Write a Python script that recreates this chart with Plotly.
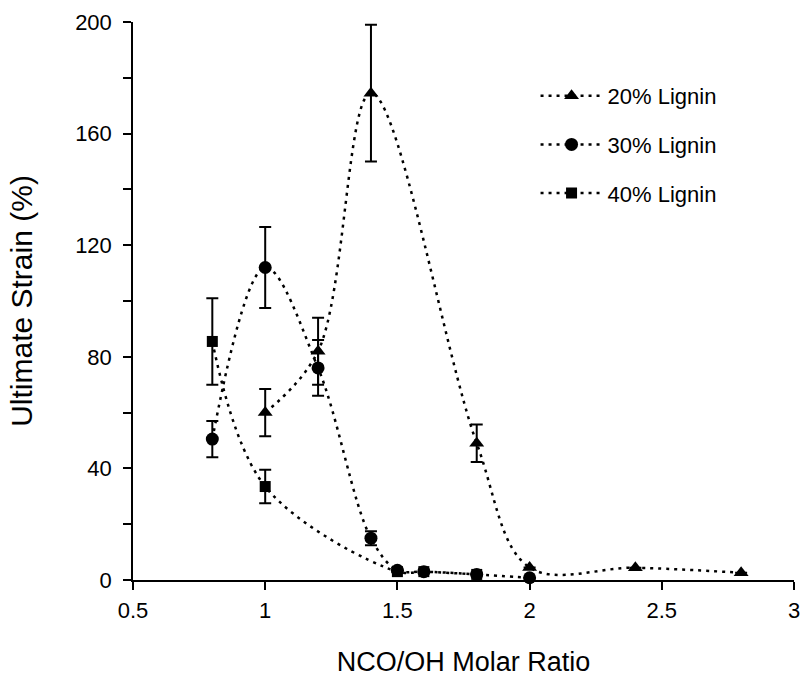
import plotly.graph_objects as go

# ---- data ----
x20 = [1.0, 1.2, 1.4, 1.8, 2.0, 2.4, 2.8]
y20 = [60, 82, 174.5, 49, 4.5, 4.4, 2.6]
e20 = [8.5, 12, 24.5, 6.7, 0, 0, 0]

x30 = [0.8, 1.0, 1.2, 1.4, 1.5, 1.6, 1.8, 2.0]
y30 = [50.5, 112, 76, 15, 3.5, 3, 2, 0.8]
e30 = [6.5, 14.5, 10, 2.5, 0, 0, 0, 0]

x40 = [0.8, 1.0, 1.5, 1.6, 1.8]
y40 = [85.5, 33.5, 3, 3, 2]
e40 = [15.5, 6, 0, 0, 0]

names = ["20% Lignin", "30% Lignin", "40% Lignin"]
symbols = ["triangle-up", "circle", "square"]

FONT = "Liberation Sans, Arial, Helvetica, sans-serif"

fig = go.Figure()
series = [(x20, y20, e20), (x30, y30, e30), (x40, y40, e40)]
for i, ((xs, ys, es), nm, sym) in enumerate(zip(series, names, symbols)):
    fig.add_trace(go.Scatter(
        x=xs, y=ys, name=nm, legendgroup=nm,
        mode="lines+markers",
        line=dict(color="black", width=2.5, dash="3px,5px", shape="spline", smoothing=1.0),
        marker=dict(symbol=sym, color="black", size=13 if sym != "square" else 11),
        error_y=dict(type="data", array=es, visible=True, color="black",
                     thickness=2, width=6),
        cliponaxis=False,
    ))

fig.update_layout(
    width=810, height=695,
    margin=dict(l=133, r=10, t=17, b=115),
    paper_bgcolor="white", plot_bgcolor="white",
    font=dict(family=FONT, size=22, color="black"),
    showlegend=True,
    legend=dict(x=0.609, y=0.905, xanchor="left", yanchor="top",
                bgcolor="rgba(0,0,0,0)", font=dict(size=22),
                itemwidth=62, tracegroupgap=17, traceorder="grouped"),
    xaxis=dict(range=[0.5, 3], tick0=0.5, dtick=0.5, showgrid=False, zeroline=False,
               showline=True, linecolor="black", linewidth=1.5,
               ticks="outside", ticklen=8, tickwidth=1.5, tickcolor="black",
               tickfont=dict(size=22), ticklabelstandoff=2,
               title=dict(text="NCO/OH Molar Ratio", font=dict(size=27), standoff=30)),
    yaxis=dict(range=[0, 200], tick0=0, dtick=40, showgrid=False, zeroline=False,
               showline=True, linecolor="black", linewidth=1.5,
               ticks="outside", ticklen=8, tickwidth=1.5, tickcolor="black",
               tickfont=dict(size=22), ticklabelstandoff=7,
               minor=dict(ticks="outside", dtick=20, ticklen=8, tickwidth=1.5, tickcolor="black"),
               title=dict(text="Ultimate Strain (%)", font=dict(size=30), standoff=34)),
)

fig.write_html("out.html")
